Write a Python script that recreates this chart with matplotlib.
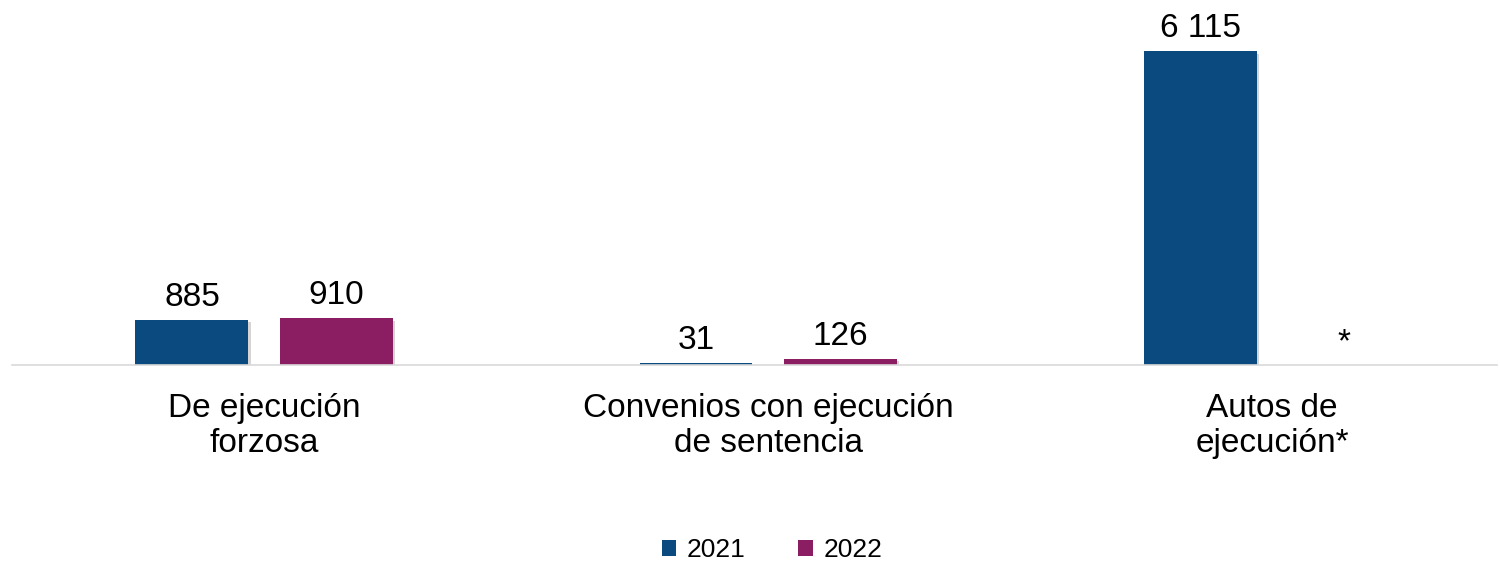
import matplotlib
matplotlib.use("Agg")
import matplotlib.pyplot as plt
import matplotlib.patheffects as pe
from matplotlib.patches import Patch
import numpy as np

plt.rcParams['font.family'] = ['Liberation Sans', 'DejaVu Sans']

categories = ["De ejecución\nforzosa", "Convenios con ejecución\nde sentencia", "Autos de\nejecución*"]
series_names = ["2021", "2022"]
values_2021 = [885, 31, 6115]
values_2022 = [910, 126, 0]
labels_2021 = ["885", "31", "6 115"]
labels_2022 = ["910", "126", "*"]
colors = ["#0b4a7e", "#8b1d63"]

fig = plt.figure(figsize=(15, 5.62), dpi=100)
ax = fig.add_axes([12/1500, 1-365/562, (1497-12)/1500, 365/562])

x = np.arange(len(categories))
w = 0.224
off = 0.143
shadow = [pe.SimplePatchShadow(offset=(2, -2), shadow_rgbFace='#888888', alpha=0.35), pe.Normal()]
b1 = ax.bar(x - off, values_2021, w, color=colors[0], label=series_names[0], path_effects=shadow)
b2 = ax.bar(x + off, values_2022, w, color=colors[1], label=series_names[1], path_effects=shadow)

for bars, labs in ((b1, labels_2021), (b2, labels_2022)):
    for r, t in zip(bars, labs):
        ax.annotate(t, (r.get_x() + r.get_width()/2, r.get_height()),
                    xytext=(0, 5), textcoords='offset points',
                    ha='center', va='bottom', fontsize=24, color='black')

ax.set_xlim(-0.5, 2.446)
ax.set_ylim(0, 7108)
ax.set_xticks(x)
ax.set_xticklabels(categories, fontsize=24, linespacing=1.16)
ax.tick_params(axis='x', length=0, pad=20)
ax.set_yticks([])
for s in ['top', 'right', 'left']:
    ax.spines[s].set_visible(False)
ax.spines['bottom'].set_color('#d9d9d9')
ax.spines['bottom'].set_linewidth(1.2)

handles = [Patch(facecolor=c, edgecolor='none') for c in colors]
fig.legend(handles=handles, labels=series_names, loc='center',
           bbox_to_anchor=(772/1500, 1-550/562), ncol=2, frameon=False,
           fontsize=19, handlelength=0.55, handleheight=0.55,
           handletextpad=0.4, columnspacing=2.0)

fig.savefig("out.png", dpi=100)
